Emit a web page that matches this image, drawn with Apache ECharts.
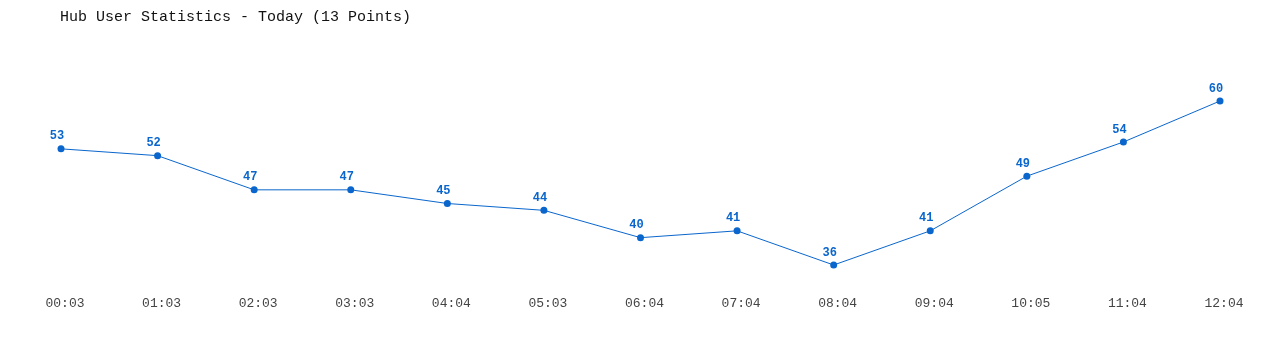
<!DOCTYPE html>
<html><head><meta charset="utf-8">
<script src="https://cdn.jsdelivr.net/npm/echarts@6/dist/echarts.min.js"></script>
<style>html,body{margin:0;padding:0;background:#fff}#c{width:1280px;height:350px}</style>
</head><body><div id="c"></div>
<script>
const categories = ["00:03","01:03","02:03","03:03","04:04","05:03","06:04","07:04","08:04","09:04","10:05","11:04","12:04"];
const users = [53,52,47,47,45,44,40,41,36,41,49,54,60];
const titleText = "Hub User Statistics - Today (13 Points)";
const mono = "'Liberation Mono', 'DejaVu Sans Mono', monospace";
const chart = echarts.init(document.getElementById('c'), null, {renderer:'canvas'});
chart.setOption({
  animation: false,
  backgroundColor: '#ffffff',
  title: {text: titleText, left: 55, top: 5, textStyle: {fontFamily: mono, fontSize: 15, fontWeight: 'normal', color: '#111'}},
  grid: {left: 61, right: 60, top: 101, height: 164},
  xAxis: {type: 'category', data: categories, boundaryGap: false,
    axisLine: {show: false}, axisTick: {show: false}, splitLine: {show: false},
    axisLabel: {margin: 32, padding: [0, 0, 0, 8], fontFamily: mono, fontSize: 13, color: '#444'}},
  yAxis: {type: 'value', min: 36, max: 60, show: false, splitLine: {show: false}},
  series: [{type: 'line', data: users, symbol: 'circle', symbolSize: 7,
    lineStyle: {color: '#0a66cc', width: 1}, itemStyle: {color: '#0a66cc'},
    label: {show: true, position: 'top', distance: 6, offset: [-4, 3], fontFamily: mono, fontSize: 12, fontWeight: 'bold', color: '#0a66cc'}}]
});
</script></body></html>
